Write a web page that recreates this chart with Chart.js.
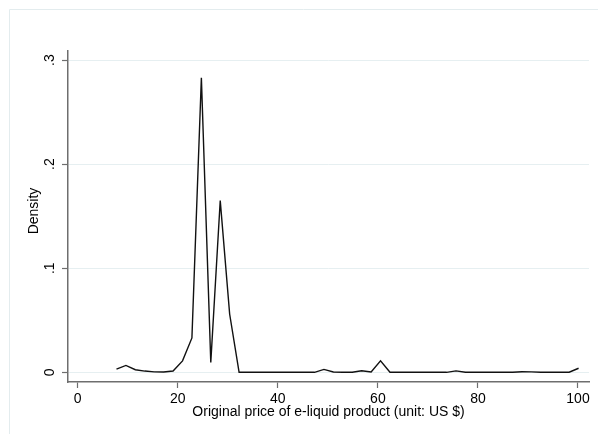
<!DOCTYPE html>
<html>
<head>
<meta charset="utf-8">
<script src="https://cdn.jsdelivr.net/npm/chart.js@4/dist/chart.umd.min.js"></script>
<style>
  html, body { margin: 0; padding: 0; background: #fff; }
  #wrap { position: relative; width: 598px; height: 434px; }
</style>
</head>
<body>
<div id="wrap"><canvas id="myChart" width="598" height="434"></canvas></div>
<script>
// kernel density of original price, 50 evaluation points
var priceX = [7.75, 9.64, 11.52, 13.41, 15.29, 17.18, 19.06, 20.95, 22.83, 24.72,
              26.60, 28.49, 30.37, 32.26, 34.14, 36.03, 37.91, 39.80, 41.68, 43.57,
              45.45, 47.34, 49.22, 51.11, 52.99, 54.88, 56.76, 58.65, 60.53, 62.42,
              64.30, 66.19, 68.07, 69.96, 71.84, 73.73, 75.61, 77.50, 79.38, 81.27,
              83.15, 85.04, 86.92, 88.81, 90.69, 92.58, 94.46, 96.35, 98.23, 100.12];
var density = [0.003, 0.0066, 0.0025, 0.0012, 0.0004, 0.0003, 0.0013, 0.011, 0.033, 0.283,
               0.0095, 0.165, 0.056, 0, 0, 0, 0, 0, 0, 0,
               0, 0, 0.0028, 0.0003, 0, 0.0001, 0.0015, 0.0003, 0.011, 0,
               0, 0, 0, 0, 0, 0, 0.0014, 0.0001, 0, 0,
               0, 0, 0, 0.0006, 0.0004, 0.0001, 0, 0, 0.0001, 0.0039];
var xTicks = [0, 20, 40, 60, 80, 100];
var yTicks = [0, 0.1, 0.2, 0.3];
var yTickLabels = ['0', '.1', '.2', '.3'];

var FONT = "'Liberation Sans', Arial, sans-serif";
var AXIS = '#6e6e6e';

var points = priceX.map(function (x, i) { return { x: x, y: density[i] }; });

// y tick labels and axis title rotated like Stata + light outer frame
var stataBits = {
  id: 'stataBits',
  beforeDraw: function (chart) {
    var c = chart.ctx;
    c.save();
    c.strokeStyle = '#e3ecee';
    c.lineWidth = 1;
    c.beginPath();
    c.moveTo(9.5, 434);
    c.lineTo(9.5, 9.5);
    c.lineTo(598, 9.5);
    c.stroke();
    c.restore();
  },
  afterDraw: function (chart) {
    var c = chart.ctx;
    var ys = chart.scales.y;
    c.save();
    c.font = '14px ' + FONT;
    c.fillStyle = '#000';
    c.textAlign = 'center';
    c.textBaseline = 'middle';
    yTicks.forEach(function (v, i) {
      var py = ys.getPixelForValue(v);
      c.save();
      c.translate(50, py);
      c.rotate(-Math.PI / 2);
      c.fillText(yTickLabels[i], 0, 0);
      c.restore();
    });
    c.save();
    c.translate(34, 211);
    c.rotate(-Math.PI / 2);
    c.fillText('Density', 0, 0);
    c.restore();
    c.restore();
  }
};

var ctx = document.getElementById('myChart').getContext('2d');
var chart = new Chart(ctx, {
  type: 'line',
  data: {
    datasets: [{
      label: 'Density',
      data: points,
      borderColor: '#111',
      borderWidth: 1.4,
      pointRadius: 0,
      tension: 0,
      fill: false
    }]
  },
  options: {
    responsive: false,
    animation: false,
    devicePixelRatio: 1,
    layout: { padding: { top: 51, right: 9, left: 0, bottom: 0 } },
    plugins: { legend: { display: false }, tooltip: { enabled: false } },
    scales: {
      x: {
        type: 'linear',
        min: -1.94,
        max: 102.2,
        afterBuildTicks: function (s) { s.ticks = xTicks.map(function (v) { return { value: v }; }); },
        afterFit: function (s) { s.height = 52; },
        ticks: { font: { family: FONT, size: 14 }, color: '#000', padding: 3, maxRotation: 0 },
        grid: { drawOnChartArea: false, tickLength: 6, tickColor: AXIS, tickWidth: 1.2 },
        border: { color: AXIS, width: 1.5 },
        title: {
          display: true,
          text: 'Original price of e-liquid product (unit: US $)',
          font: { family: FONT, size: 14 },
          color: '#000',
          padding: { top: 0, bottom: 13 }
        }
      },
      y: {
        min: -0.0093,
        max: 0.3087,
        afterBuildTicks: function (s) { s.ticks = yTicks.map(function (v) { return { value: v }; }); },
        afterFit: function (s) { s.width = 68; },
        ticks: { display: false },
        grid: { color: '#e6eff1', lineWidth: 1, tickLength: 6, tickColor: AXIS, tickWidth: 1.2 },
        border: { color: AXIS, width: 1.5 }
      }
    }
  },
  plugins: [stataBits]
});
</script>
</body>
</html>
